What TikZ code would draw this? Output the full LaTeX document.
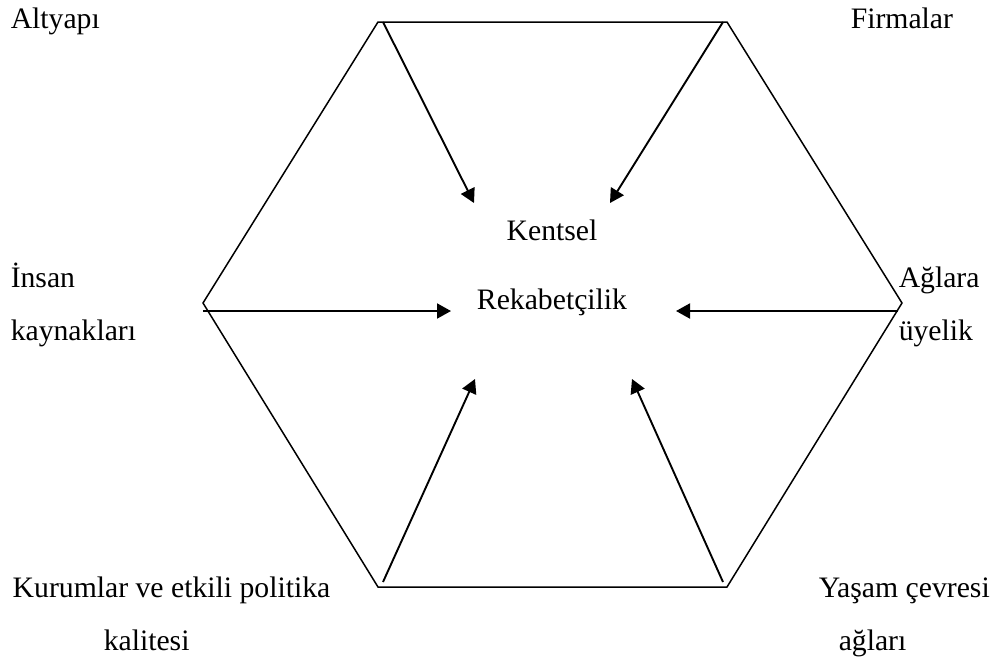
\documentclass[tikz,border=0pt]{standalone}
\usepackage{fontspec}
\setmainfont{Liberation Serif}
\usepackage{tikz}
\usetikzlibrary{arrows.meta,calc,positioning}

\begin{document}
\begin{tikzpicture}[
      x=0.5pt,y=-0.5pt,
      line width=0.75pt,
      font=\fontsize{14.85}{18}\selectfont]
    \tikzstyle{label text}=[inner sep=0pt,anchor=base west]
    \tikzstyle{center text}=[inner sep=0pt,anchor=base]
    \tikzstyle{pull}=[line width=0.95pt,-{Triangle[length=7pt,width=7.5pt]}]
    \useasboundingbox (0,0) rectangle (998,659);

    % corners of the hexagon
    \coordinate (tl) at (378,22);
    \coordinate (tr) at (727,22);
    \coordinate (r) at (902,303);
    \coordinate (br) at (727,587);
    \coordinate (bl) at (378,587);
    \coordinate (l) at (203,303);
    \draw (tl) -- (tr) -- (r) -- (br) -- (bl) -- (l) -- cycle;

    % arrow ends near the centre
    \coordinate (tlend) at (474,203);
    \coordinate (trend) at (610,203);
    \coordinate (lend) at (451,311);
    \coordinate (rend) at (676,311);
    \coordinate (blend) at (475,379);
    \coordinate (brend) at (632,379);

    \draw [pull] ($(tl)+(5,0)$) -- (tlend);
    \draw [pull] ($(tr)+(-4,0)$) -- (trend);
    \draw [pull] ($(l)+(0,8)$) -- (lend);
    \draw [pull] ($(r)+(-4,8)$) -- (rend);
    \draw [pull] ($(bl)+(5,-5)$) -- (blend);
    \draw [pull] ($(br)+(-4,-5)$) -- (brend);

    \node [center text] (kentsel) at (552,240) {Kentsel};
    \node [center text] (rekabet) at (552,309) {Rekabetçilik};

    \node [label text] (altyapi) at (10,28) {Altyapı};
    \node [label text] (firmalar) at (850,28) {Firmalar};
    \node [label text] (insan) at (10,287) {İnsan};
    \node [label text] (kaynak) at (10,340) {kaynakları};
    \node [label text] (aglara) at (898,287) {Ağlara};
    \node [label text] (uyelik) at (898,340) {üyelik};
    \node [label text] (kurumlar) at (12,597) {Kurumlar ve etkili politika};
    \node [label text] (kalite) at (103,650) {kalitesi};
    \node [label text] (yasam) at (818,597) {Yaşam çevresi};
    \node [label text] (aglari) at (838,650) {ağları};

  \end{tikzpicture}
\end{document}
